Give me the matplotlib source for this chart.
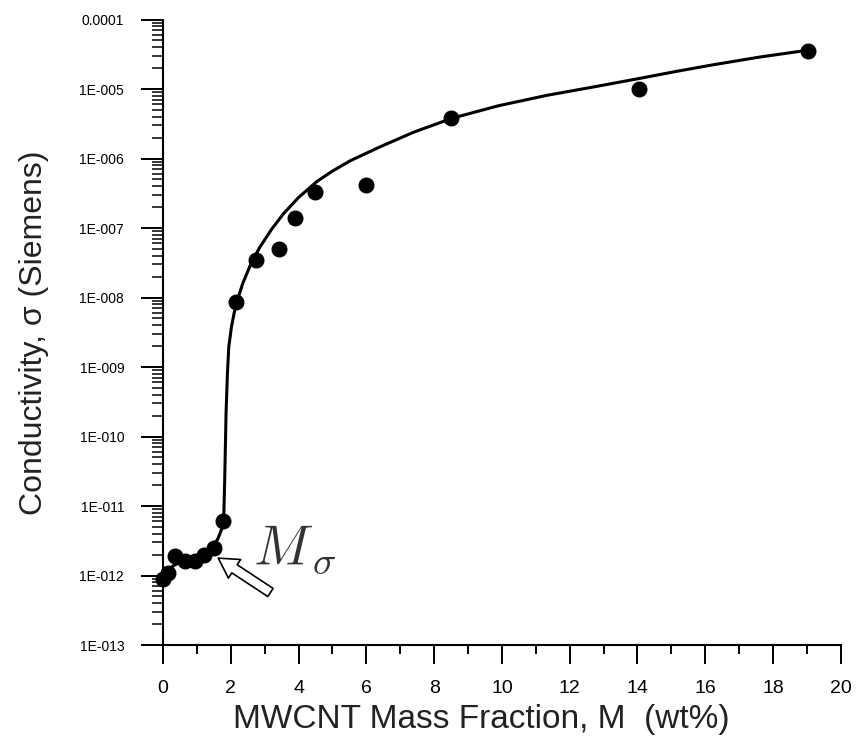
import numpy as np
import matplotlib
matplotlib.use("Agg")
import matplotlib.pyplot as plt
from matplotlib.ticker import LogLocator, MultipleLocator, NullFormatter

# Measured data (MWCNT mass fraction wt%, conductivity S)
mass_frac = [0.0, 0.15, 0.35, 0.65, 0.95, 1.2, 1.5, 1.76,
             2.16, 2.73, 3.41, 3.88, 4.49, 6.0, 8.51, 14.03, 19.04]
conductivity = [9.0e-13, 1.1e-12, 1.9e-12, 1.6e-12, 1.6e-12, 2.0e-12, 2.5e-12, 6.0e-12,
                8.7e-9, 3.5e-8, 5.0e-8, 1.38e-7, 3.3e-7, 4.2e-7, 3.8e-6, 1.0e-5, 3.55e-5]

# Fit curve (x, log10 sigma)
fit_x = [0.0, 0.3, 0.6, 0.9, 1.2, 1.45, 1.62, 1.74, 1.79, 1.82, 1.86, 1.90, 1.94,
         2.02, 2.10, 2.18, 2.35, 2.58, 2.85, 3.2, 3.56, 4.0, 4.54, 5.0, 5.53, 6.41,
         7.4, 8.53, 9.9, 11.33, 12.7, 14.03, 15.1, 16.24, 17.6, 19.04]
fit_log = [-12.00, -11.86, -11.79, -11.75, -11.70, -11.60, -11.47, -11.32, -11.20,
           -10.63, -9.66, -9.10, -8.71, -8.42, -8.22, -8.06, -7.80, -7.53, -7.28,
           -7.02, -6.79, -6.56, -6.33, -6.18, -6.03, -5.83, -5.62, -5.42, -5.24,
           -5.09, -4.97, -4.85, -4.75, -4.65, -4.54, -4.44]

y_ticks = [1e-13, 1e-12, 1e-11, 1e-10, 1e-9, 1e-8, 1e-7, 1e-6, 1e-5, 1e-4]
y_tick_labels = ["1E-013", "1E-012", "1E-011", "1E-010", "1E-009", "1E-008",
                 "1E-007", "1E-006", "1E-005", "0.0001"]
x_ticks = [0, 2, 4, 6, 8, 10, 12, 14, 16, 18, 20]

plt.rcParams['font.family'] = ['Liberation Sans', 'DejaVu Sans']

fig = plt.figure(figsize=(8.58, 7.38), dpi=100)
ax = fig.add_axes([0.190, 0.126, 0.790, 0.8475])

ax.plot(fit_x, 10 ** np.array(fit_log), color='black', lw=2.2, zorder=2,
        solid_joinstyle='round')
ax.plot(mass_frac, conductivity, 'o', color='black', ms=10.5, zorder=3,
        clip_on=False)

ax.set_yscale('log')
ax.set_xlim(0, 20)
ax.set_ylim(1e-13, 1e-4)

ax.set_yticks(y_ticks)
ax.set_yticklabels(y_tick_labels, fontsize=10)
ax.yaxis.set_minor_locator(LogLocator(base=10, subs=np.arange(2, 10), numticks=100))
ax.yaxis.set_minor_formatter(NullFormatter())
ax.set_xticks(x_ticks)
ax.set_xticklabels([str(v) for v in x_ticks], fontsize=14)
ax.xaxis.set_minor_locator(MultipleLocator(1))

ax.tick_params(axis='y', which='major', direction='out', length=16, width=1.4, pad=12)
ax.tick_params(axis='y', which='minor', direction='out', length=8, width=1.1)
ax.tick_params(axis='x', which='major', direction='out', length=14, width=1.4, pad=11)
ax.tick_params(axis='x', which='minor', direction='out', length=6.5, width=1.4)

for s in ['top', 'right']:
    ax.spines[s].set_visible(False)
for s in ['left', 'bottom']:
    ax.spines[s].set_linewidth(1.5)

ax.set_xlabel("MWCNT Mass Fraction, M  (wt%)", fontsize=24, color='#222222')
ax.xaxis.set_label_coords(0.469, -0.095)
ax.set_ylabel("Conductivity, σ (Siemens)", fontsize=23, labelpad=22, color='#222222')

ax.annotate('', xy=(1.63, 1.78e-12), xytext=(3.17, 5.7e-13),
            arrowprops=dict(arrowstyle='simple,head_length=0.7,head_width=0.8,tail_width=0.35',
                            fc='white', ec='black', lw=1.2, shrinkA=0, shrinkB=0,
                            mutation_scale=20))
ax.text(2.65, 1.45e-12, r'$M_{\,\sigma}$', fontsize=40, color='#333333',
        math_fontfamily='cm', ha='left', va='baseline')

fig.savefig("out.png", dpi=100)
